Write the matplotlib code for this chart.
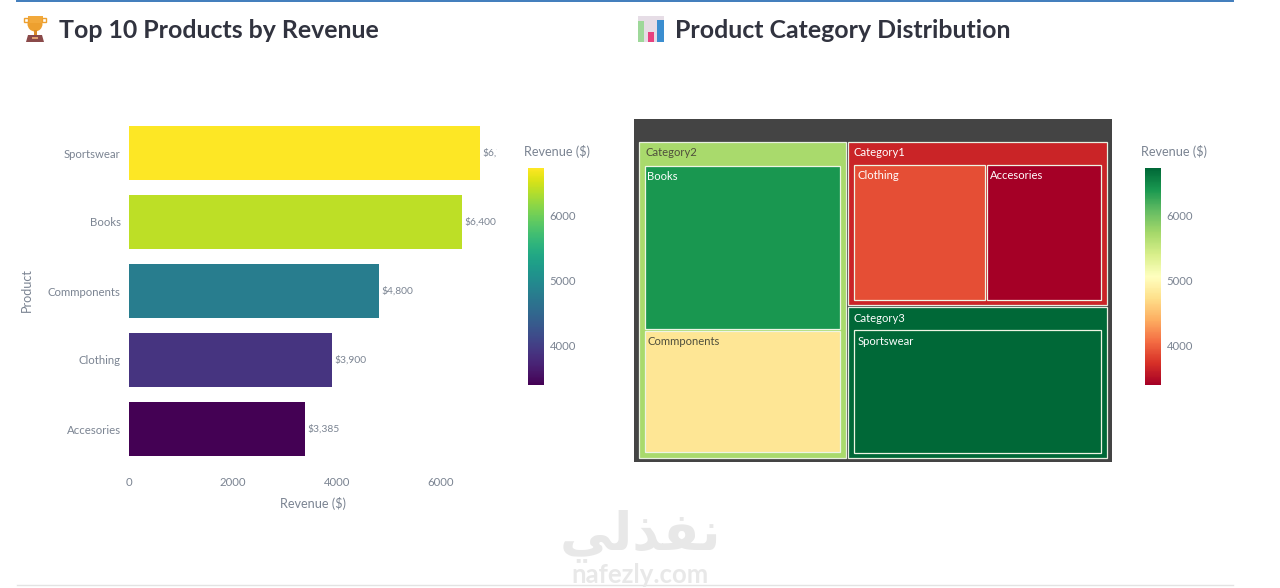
"""Top products dashboard: revenue bars next to a category treemap."""

import matplotlib

matplotlib.use("Agg")
import matplotlib.pyplot as plt
from matplotlib.cm import ScalarMappable
from matplotlib.colors import Normalize
from matplotlib.patches import Circle, Polygon, Rectangle

W, H = 1280, 588

products = ["Accesories", "Clothing", "Commponents", "Books", "Sportswear"]
revenue = [3385, 3900, 4800, 6400, 6750]
bar_labels = ["$3,385", "$3,900", "$4,800", "$6,400", "$6,750"]
x_ticks = [0, 2000, 4000, 6000]
cbar_ticks = [4000, 5000, 6000]
cbar_range = (3400, 6738)

cat_names = ["Category2", "Category1", "Category3"]
cat_products = [["Books", "Commponents"], ["Clothing", "Accesories"], ["Sportswear"]]

TICK = "#7b8492"
TITLE = "#31333f"
plt.rcParams["font.family"] = ["Lato", "DejaVu Sans"]
norm = Normalize(*cbar_range)
rev_by_name = dict(zip(products, revenue))


def px_axes(fig, x0, y0, x1, y1, **kw):
    return fig.add_axes([x0 / W, 1 - y1 / H, (x1 - x0) / W, (y1 - y0) / H], **kw)


def add_cbar(fig, x0, cmap, title_x):
    cax = px_axes(fig, x0, 168, x0 + 16, 385)
    cb = fig.colorbar(ScalarMappable(norm=norm, cmap=cmap), cax=cax)
    cb.set_ticks(cbar_ticks)
    cb.ax.tick_params(length=0, labelsize=8.2, labelcolor=TICK, pad=4)
    cb.outline.set_visible(False)
    fig.text(title_x / W, 1 - 151 / H, "Revenue ($)", fontsize=9.1, color=TICK,
             va="center", parse_math=False)


def tile(ax, x0, y0, x1, y1, value, label, edge, text_pad=(6, 11)):
    color = plt.get_cmap("RdYlGn")(norm(value))
    ax.add_patch(Rectangle((x0, y0), x1 - x0, y1 - y0, facecolor=color,
                           edgecolor=edge, linewidth=0.9))
    lum = 0.299 * color[0] + 0.587 * color[1] + 0.114 * color[2]
    ax.text(x0 + text_pad[0], y0 + text_pad[1], label, fontsize=8.1, va="center",
            color="#4f4f3c" if lum > 0.6 else "white")


def draw_treemap(ax, x0, y0, x1, y1):
    totals = [sum(rev_by_name[p] for p in group) for group in cat_products]
    # parent colour is the value weighted mean of its children
    means = [sum(rev_by_name[p] ** 2 for p in g) / t for t, g in zip(totals, cat_products)]
    left_w = (x1 - x0) * totals[0] / sum(totals)
    top_h = (y1 - y0) * totals[1] / (totals[1] + totals[2])
    boxes = [
        (x0, y0, x0 + left_w - 1, y1),
        (x0 + left_w + 1, y0, x1, y0 + top_h - 1),
        (x0 + left_w + 1, y0 + top_h + 1, x1, y1),
    ]
    for name, group, total, mean, box in zip(cat_names, cat_products, totals, means, boxes):
        bx0, by0, bx1, by1 = box
        tile(ax, bx0, by0, bx1, by1, mean, name, "#e8f0e0")
        cx0, cy0, cx1, cy1 = bx0 + 5.5, by0 + 23, bx1 - 5.5, by1 - 5
        pos = 0.0
        for prod in group:
            frac = rev_by_name[prod] / total
            if bx1 - bx0 < 230:
                # tall category, children stacked
                span = (cy1 - cy0) * frac
                rect = (cx0, cy0 + pos + 1, cx1, cy0 + pos + span - 1)
            else:
                span = (cx1 - cx0) * frac
                rect = (cx0 + pos + 1, cy0, cx0 + pos + span - 1, cy1)
            tile(ax, *rect, rev_by_name[prod], prod, "#eef5e4", (3, 11))
            pos += span


def draw_icons(ax):
    # trophy
    ax.add_patch(Circle((35, 24), 7.5, facecolor="#eda02f", edgecolor="none"))
    ax.add_patch(Rectangle((27.5, 16), 15, 7, facecolor="#f2a93b", edgecolor="none"))
    ax.add_patch(Rectangle((24, 18), 4, 4, facecolor="none", edgecolor="#eda02f", linewidth=1))
    ax.add_patch(Rectangle((42, 18), 4, 4, facecolor="none", edgecolor="#eda02f", linewidth=1))
    ax.add_patch(Rectangle((33.5, 30), 3, 5, facecolor="#d98a28", edgecolor="none"))
    ax.add_patch(Polygon([(28, 35), (42, 35), (44, 42), (26, 42)], facecolor="#8a4a4a", edgecolor="none"))
    ax.add_patch(Rectangle((32, 37), 6, 2, facecolor="#e0a070", edgecolor="none"))
    # bar chart
    ax.add_patch(Rectangle((638, 16), 26, 26, facecolor="#e6dde6", edgecolor="none"))
    ax.add_patch(Rectangle((638, 21), 6, 21, facecolor="#9ed89a", edgecolor="none"))
    ax.add_patch(Rectangle((648, 32), 6, 10, facecolor="#e8417f", edgecolor="none"))
    ax.add_patch(Rectangle((657, 20), 7, 22, facecolor="#3b8ed0", edgecolor="none"))


fig = plt.figure(figsize=(W / 100, H / 100), dpi=100, facecolor="white")

# page furniture in pixel coordinates
page = px_axes(fig, 0, 0, W, H)
page.set_xlim(0, W)
page.set_ylim(H, 0)
page.axis("off")
page.plot([17, 1233], [1, 1], color="#3f7cbc", linewidth=1.4)
page.plot([17, 1233], [585, 585], color="#e3e3e3", linewidth=1)
draw_icons(page)
page.text(59, 31, "Top 10 Products by Revenue", fontsize=17.9, fontweight="bold",
          color=TITLE, va="center")
page.text(675, 31, "Product Category Distribution", fontsize=17.9, fontweight="bold",
          color=TITLE, va="center")
page.text(640, 536, "\ufef2\ufedf\ufeac\ufed4\ufee7", fontsize=38, fontweight="bold", color="#e8e8e8",
          ha="center", va="center", family=["DejaVu Sans"])
page.text(640, 575, "nafezly.com", fontsize=18.5, fontweight="bold", color="#e8e8e8",
          ha="center", va="center")

# revenue bars
ax = px_axes(fig, 129, 118.5, 497, 463.5)
ax.patch.set_alpha(0)
ax.barh(products, revenue, height=0.78, color=plt.get_cmap("viridis")(norm(revenue)))
ax.set_xlim(0, 7077)
ax.set_ylim(-0.5, 4.5)
for i, (val, lab) in enumerate(zip(revenue, bar_labels)):
    ax.text(val + 50, i, lab, fontsize=7.4, color=TICK, va="center", clip_on=True, parse_math=False)
ax.set_xticks(x_ticks)
ax.tick_params(length=0, labelsize=8.2, labelcolor=TICK)
ax.tick_params(axis="x", pad=10)
ax.tick_params(axis="y", pad=6)
for spine in ax.spines.values():
    spine.set_visible(False)
fig.text(313 / W, 1 - 503 / H, "Revenue ($)", fontsize=9.1, color=TICK, ha="center", va="center",
         parse_math=False)
fig.text(27 / W, 1 - 290 / H, "Product", fontsize=9.1, color=TICK, rotation=90, ha="center", va="center")
add_cbar(fig, 528, "viridis", 524)

# treemap
tm = px_axes(fig, 634, 119, 1112, 462)
tm.set_xlim(634, 1112)
tm.set_ylim(462, 119)
tm.set_facecolor("#444444")
tm.set_xticks([])
tm.set_yticks([])
for spine in tm.spines.values():
    spine.set_visible(False)
draw_treemap(tm, 639, 142, 1107, 458)
add_cbar(fig, 1145, "RdYlGn", 1141)

fig.savefig("out.png", dpi=100)
plt.close(fig)
